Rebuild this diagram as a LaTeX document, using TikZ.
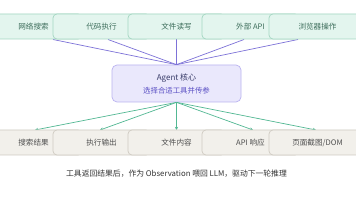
\documentclass[tikz,border=0pt]{standalone}
\usepackage{fontspec}
\setmainfont{Noto Sans CJK SC}
\usetikzlibrary{arrows.meta}
\definecolor{topfill}{HTML}{E3F5EE}
\definecolor{topdraw}{HTML}{A3D6C1}
\definecolor{toptext}{HTML}{3E6E5C}
\definecolor{botfill}{HTML}{F2F0EB}
\definecolor{botdraw}{HTML}{CFCBC2}
\definecolor{bottext}{HTML}{4F4F4F}
\definecolor{agfill}{HTML}{EAE8FC}
\definecolor{agdraw}{HTML}{BAB3F0}
\definecolor{agtitle}{HTML}{3A3D6A}
\definecolor{agsub}{HTML}{5A4FC4}
\definecolor{purpline}{HTML}{7D72D8}
\definecolor{greenline}{HTML}{52B893}
\definecolor{captext}{HTML}{333333}
\tikzset{
  toolbox/.style={draw=topdraw, fill=topfill, line width=0.7pt, rounded corners=4pt,
    minimum width=97pt, minimum height=25pt, inner sep=0pt, text=toptext, font=\fontsize{7.6pt}{9pt}\selectfont},
  resbox/.style={draw=botdraw, fill=botfill, line width=0.7pt, rounded corners=4pt,
    minimum width=97pt, minimum height=25pt, inner sep=0pt, text=bottext, font=\fontsize{7.6pt}{9pt}\selectfont},
  agentbox/.style={draw=agdraw, fill=agfill, line width=0.7pt, rounded corners=5pt,
    minimum width=129pt, minimum height=37pt, inner sep=0pt, align=center},
  callline/.style={draw=purpline, line width=0.7pt},
  retline/.style={draw=greenline, line width=0.7pt, -{Stealth[length=3.2pt,width=3.2pt]}},
}
\begin{document}
\begin{tikzpicture}[x=1pt,y=-1pt]
\useasboundingbox (0,0) rectangle (356,200);
\fill[white] (0,0) rectangle (356,200);
% agent
\node[agentbox] (ag) at (176.5,83.5) {{\color{agtitle}\fontsize{8pt}{10pt}\selectfont Agent 核心}\\[1pt]{\color{agsub}\fontsize{7.4pt}{9pt}\selectfont 选择合适工具并传参}};
% start / end coordinates
\coordinate (s1) at (53,39.5);
\coordinate (s2) at (108,39.5);
\coordinate (s3) at (176.5,39.5);
\coordinate (s4) at (244,39.5);
\coordinate (s5) at (298,39.5);
\coordinate (e1) at (35,130);
\coordinate (e2) at (100,130);
\coordinate (e3) at (176.5,130);
\coordinate (e4) at (253,130);
\coordinate (e5) at (316,130);
\foreach \i in {1,...,5} {
  \draw[callline] (s\i) -- (ag.north);
  \draw[retline] (ag.south) -- (e\i);
}
% top row
\node[toolbox] (t1) at (33.5,26.5) {网络搜索};
\node[toolbox] (t2) at (101.5,26.5) {代码执行};
\node[toolbox] (t3) at (176.5,26.5) {文件读写};
\node[toolbox] (t4) at (250.5,26.5) {外部 API};
\node[toolbox] (t5) at (317.5,26.5) {浏览器操作};
% bottom row
\node[resbox] (b1) at (33.5,142.5) {搜索结果};
\node[resbox] (b2) at (101.5,142.5) {执行输出};
\node[resbox] (b3) at (176.5,142.5) {文件内容};
\node[resbox] (b4) at (250.5,142.5) {API 响应};
\node[resbox] (b5) at (317.5,142.5) {页面截图/DOM};
% caption
\node[text=captext, font=\fontsize{7.8pt}{9pt}\selectfont] (cap) at (176.5,174) {工具返回结果后，作为 Observation 喂回 LLM，驱动下一轮推理};
\end{tikzpicture}
\end{document}
